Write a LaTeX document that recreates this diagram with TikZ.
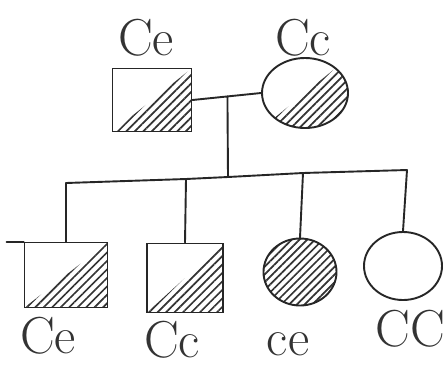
\documentclass[tikz,border=0pt]{standalone}
\usetikzlibrary{shapes.geometric,patterns.meta}
\tikzset{
  ink/.style={draw=black!85,line width=1.9pt},
  male/.style={ink,rectangle,inner sep=0pt},
  female/.style={ink,ellipse,inner sep=0pt},
  halfhatch/.style={path picture={\fill[pattern={Lines[angle=45,distance=6pt,line width=1.7pt]},pattern color=black!80] (path picture bounding box.south west) -- (path picture bounding box.north east) -- (path picture bounding box.south east) -- cycle;}},
  fullhatch/.style={pattern={Lines[angle=45,distance=5.5pt,line width=1.7pt]},pattern color=black!80},
  geno/.style={font=\fontsize{52}{52}\selectfont,text=black!80,inner sep=0pt},
  link/.style={ink,line cap=round}
}
\begin{document}
\begin{tikzpicture}[x=1pt,y=-1pt]
\useasboundingbox[fill=white] (0,0) rectangle (444,368);
% parents
\node[male,halfhatch,minimum width=79pt,minimum height=63pt] (f) at (152,100) {};
\node[female,halfhatch,minimum width=86pt,minimum height=70pt] (m) at (305,93) {};
% children
\node[male,halfhatch,minimum width=83pt,minimum height=65pt] (c1) at (66,275) {};
\node[male,halfhatch,minimum width=76pt,minimum height=69pt] (c2) at (185,278) {};
\node[female,fullhatch,minimum width=73pt,minimum height=67pt] (c3) at (300,272) {};
\node[female,minimum width=78pt,minimum height=68pt] (c4) at (403,266) {};
% genotypes
\node[geno] (lf) at (146,38) {Ce};
\node[geno] (lm) at (303,38) {Cc};
\node[geno] (l1) at (48,336) {Ce};
\node[geno] (l2) at (172,340) {Cc};
\node[geno] (l3) at (288,344) {ce};
\node[geno] (l4) at (410,329) {CC};
% connectors
\coordinate (k1) at (66,183);
\coordinate (k2) at (186,179);
\coordinate (j) at (228,177);
\coordinate (k3) at (303,173);
\coordinate (k4) at (407,170);
\draw[link] (f.east) -- coordinate[pos=0.51] (mid) (m.west);
\draw[link] (mid) -- (j);
\draw[link] (k1) -- (k2) -- (j) -- (k3) -- (k4);
\draw[link] (k1) -- (c1.north);
\draw[link] (k2) -- (c2.north);
\draw[link] (k3) -- (c3.north);
\draw[link] (k4) -- (c4.north);
\draw[link] (c1.north west) -- ++(-17,0);
\end{tikzpicture}
\end{document}
